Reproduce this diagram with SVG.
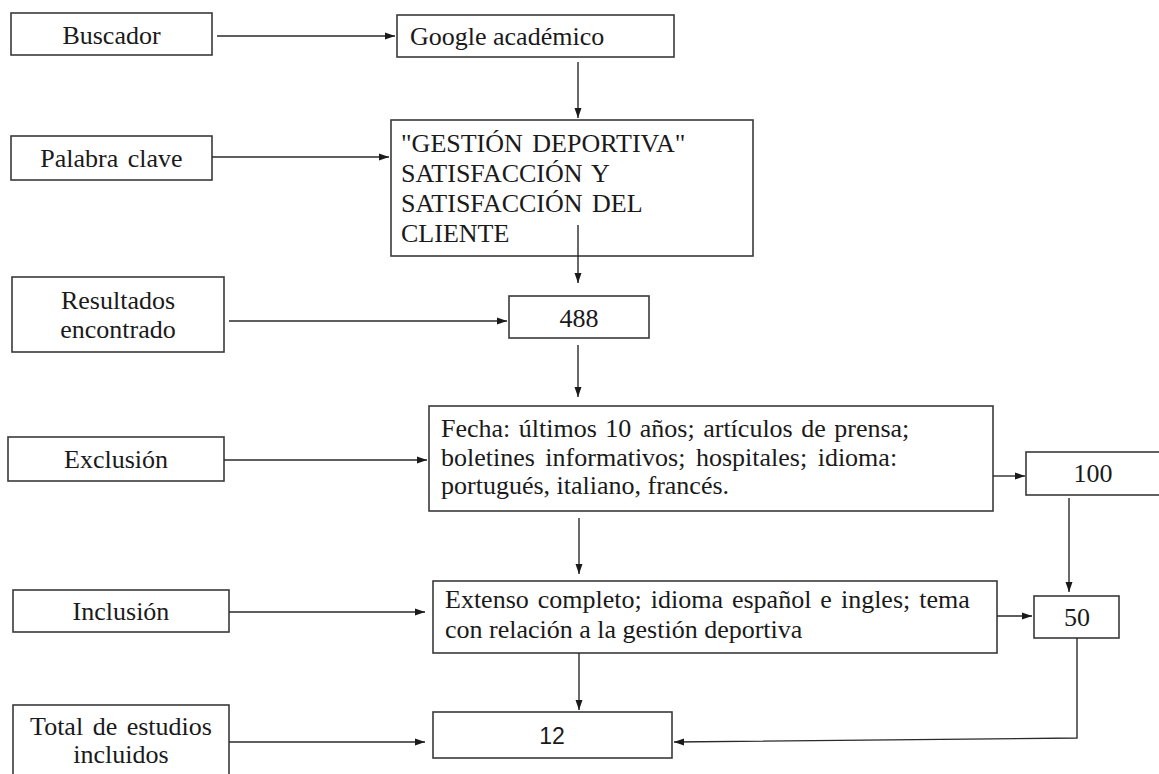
<svg xmlns="http://www.w3.org/2000/svg" width="1159" height="774" viewBox="0 0 1159 774">
<style>
.box{fill:#fff;stroke:#3a3a3a;stroke-width:1.6}
.t{font-size:26px;fill:#1a1a1a}
.c{text-anchor:middle}
.s{font-size:23px;fill:#1a1a1a}
.ln{fill:none;stroke:#2a2a2a;stroke-width:1.4}
</style>
<defs>
<marker id="ah" markerUnits="userSpaceOnUse" markerWidth="11" markerHeight="8" refX="10" refY="4" orient="auto">
<path d="M0,0.5 L10,4 L0,7.5 z" fill="#1a1a1a"/>
</marker>
</defs>
<rect width="1159" height="774" fill="#fff"/>
<g font-family="Liberation Serif, Times New Roman, serif">
<g id="buscador"><rect class="box" x="11" y="13" width="201" height="42"/><text class="t c" x="111.5" y="44">Buscador</text></g>
<g id="google"><rect class="box" x="397" y="15" width="277" height="42"/><text class="t" x="410" y="45">Google académico</text></g>
<g id="palabra"><rect class="box" x="11" y="136" width="201" height="44"/><text class="t c" x="111.5" y="167" word-spacing="3">Palabra clave</text></g>
<g id="gestion"><rect class="box" x="391" y="120" width="362" height="136"/>
<text class="t" x="401" y="152" word-spacing="3">"GESTIÓN DEPORTIVA"</text>
<text class="t" x="401" y="182" word-spacing="3">SATISFACCIÓN Y</text>
<text class="t" x="401" y="212" word-spacing="3">SATISFACCIÓN DEL</text>
<text class="t" x="401" y="242">CLIENTE</text></g>
<g id="resultados"><rect class="box" x="12" y="277" width="212" height="75"/><text class="t c" x="118" y="309">Resultados</text><text class="t c" x="118" y="338">encontrado</text></g>
<g id="n488"><rect class="box" x="509" y="296" width="140" height="42"/><text class="t c" x="579" y="327">488</text></g>
<g id="exclusion"><rect class="box" x="8" y="437" width="216" height="44"/><text class="t c" x="116" y="468">Exclusión</text></g>
<g id="fecha"><rect class="box" x="429" y="406" width="564" height="105"/>
<text class="t" x="441" y="437" word-spacing="2">Fecha: últimos 10 años; artículos de prensa;</text>
<text class="t" x="441" y="466" word-spacing="4">boletines informativos; hospitales;  idioma:</text>
<text class="t" x="441" y="494">portugués, italiano, francés.</text></g>
<g id="n100"><rect class="box" x="1026" y="452" width="140" height="43"/><text class="t c" x="1093" y="482">100</text></g>
<g id="inclusion"><rect class="box" x="13" y="590" width="216" height="42"/><text class="t c" x="121" y="620">Inclusión</text></g>
<g id="extenso"><rect class="box" x="433" y="581" width="564" height="72"/>
<text class="t" x="445" y="608" word-spacing="2.5">Extenso completo; idioma español e ingles; tema</text>
<text class="t" x="445" y="638">con relación a la gestión deportiva</text></g>
<g id="n50"><rect class="box" x="1034" y="596" width="85" height="42"/><text class="t c" x="1077" y="626">50</text></g>
<g id="total"><rect class="box" x="13" y="705" width="216" height="80"/><text class="t c" x="121" y="735" word-spacing="3">Total de estudios</text><text class="t c" x="121" y="763">incluidos</text></g>
</g>
<g id="n12" font-family="Liberation Sans, Arial, sans-serif"><rect class="box" x="433" y="712" width="239" height="46"/><text class="s c" x="552" y="744">12</text></g>

<g id="connectors">
<line class="ln" x1="217" y1="36" x2="395" y2="36" marker-end="url(#ah)"/>
<line class="ln" x1="578" y1="62" x2="578" y2="118" marker-end="url(#ah)"/>
<line class="ln" x1="212" y1="157" x2="389" y2="157" marker-end="url(#ah)"/>
<line class="ln" x1="578" y1="225" x2="578" y2="283" marker-end="url(#ah)"/>
<line class="ln" x1="229" y1="321" x2="507" y2="321" marker-end="url(#ah)"/>
<line class="ln" x1="578" y1="345" x2="578" y2="397" marker-end="url(#ah)"/>
<line class="ln" x1="224" y1="460" x2="427" y2="460" marker-end="url(#ah)"/>
<line class="ln" x1="993" y1="476" x2="1025" y2="476" marker-end="url(#ah)"/>
<line class="ln" x1="579" y1="518" x2="579" y2="574" marker-end="url(#ah)"/>
<line class="ln" x1="1069" y1="498" x2="1069" y2="592" marker-end="url(#ah)"/>
<line class="ln" x1="229" y1="612" x2="425" y2="612" marker-end="url(#ah)"/>
<line class="ln" x1="997" y1="616" x2="1032" y2="616" marker-end="url(#ah)"/>
<line class="ln" x1="579" y1="653" x2="579" y2="710" marker-end="url(#ah)"/>
<line class="ln" x1="229" y1="742" x2="425" y2="742" marker-end="url(#ah)"/>
<polyline class="ln" points="1077,638 1077,738 674,742" marker-end="url(#ah)"/>
</g>
</svg>
